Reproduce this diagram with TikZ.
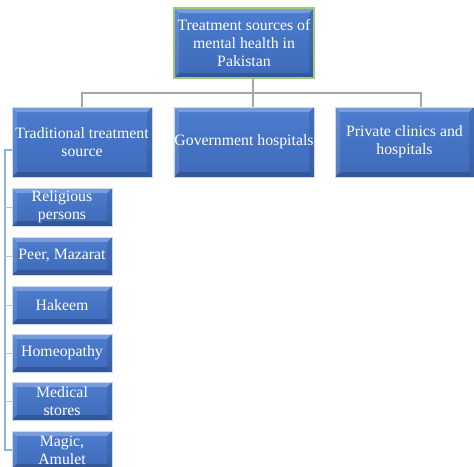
\documentclass[tikz,border=0pt]{standalone}
\usepackage{fontspec}
\setmainfont{Liberation Serif}
\definecolor{boxtop}{HTML}{4D7DD0}
\definecolor{boxbot}{HTML}{3E6AB8}
\definecolor{grayline}{HTML}{A6A6A6}
\definecolor{blueline}{HTML}{8CB3E0}
\definecolor{twigline}{HTML}{B8C8DC}
\definecolor{topborder}{HTML}{9BCB7A}
\tikzset{
  bluebox/.style={draw=white!70!boxtop, line width=0.5pt, top color=boxtop, bottom color=boxbot,
    text=white, align=center, inner sep=0.5pt, font=\fontsize{15.8}{18}\selectfont,
    path picture={
      \fill[white,opacity=0.25] (path picture bounding box.north west) -- (path picture bounding box.north east)
        -- ([xshift=-5pt,yshift=-5pt]path picture bounding box.north east) -- ([xshift=5pt,yshift=-5pt]path picture bounding box.north west) -- cycle;
      \fill[white,opacity=0.12] (path picture bounding box.north west) -- (path picture bounding box.south west)
        -- ([xshift=5pt,yshift=5pt]path picture bounding box.south west) -- ([xshift=5pt,yshift=-5pt]path picture bounding box.north west) -- cycle;
      \fill[black,opacity=0.18] (path picture bounding box.south west) -- (path picture bounding box.south east)
        -- ([xshift=-5pt,yshift=5pt]path picture bounding box.south east) -- ([xshift=5pt,yshift=5pt]path picture bounding box.south west) -- cycle;
      \fill[black,opacity=0.10] (path picture bounding box.north east) -- (path picture bounding box.south east)
        -- ([xshift=-5pt,yshift=5pt]path picture bounding box.south east) -- ([xshift=-5pt,yshift=-5pt]path picture bounding box.north east) -- cycle;
    }},
  bigbox/.style={bluebox, minimum width=140pt, minimum height=70pt},
  smallbox/.style={bluebox, minimum width=100pt, minimum height=38pt},
  graylink/.style={draw=grayline, line width=1.2pt},
  bluelink/.style={draw=blueline, line width=1.2pt},
  twiglink/.style={draw=twigline, line width=0.8pt},
}
\begin{document}
\begin{tikzpicture}[x=1pt,y=-1pt]
\useasboundingbox (0,0) rectangle (474,466);
\node[bigbox, draw=topborder, line width=1.2pt] (root) at (244,43) {Treatment sources of\\mental health in\\Pakistan};
\node[bigbox] (trad) at (82,142) {Traditional treatment\\source};
\node[bigbox] (gov) at (244,142) {Government hospitals};
\node[bigbox, minimum width=139pt] (priv) at (404.5,142) {Private clinics and\\hospitals};
\coordinate (rootdrop) at (253,78);
\coordinate (barL) at (82,93);
\coordinate (barR) at (421,93);
\coordinate (govtop) at (253,107);
\coordinate (privtop) at (421,107);
\draw[graylink] (rootdrop) -- (govtop);
\draw[graylink] (trad.north) -- (barL) -- (barR) -- (privtop);

\node[smallbox] (c1) at (62,207) {Religious\\persons};
\node[smallbox] (c2) at (62,256) {Peer, Mazarat};
\node[smallbox] (c3) at (62,305) {Hakeem};
\node[smallbox] (c4) at (62,353) {Homeopathy};
\node[smallbox] (c5) at (62,401) {Medical\\stores};
\node[smallbox] (c6) at (62,450) {Magic,\\Amulet};
\coordinate (spine) at (5,150);
\draw[bluelink] (trad.west |- spine) -- (spine) |- (c6.west);
\foreach \c in {c1,c2,c3,c4,c5}
  \draw[twiglink] (spine |- \c.west) -- (\c.west);
\end{tikzpicture}
\end{document}
